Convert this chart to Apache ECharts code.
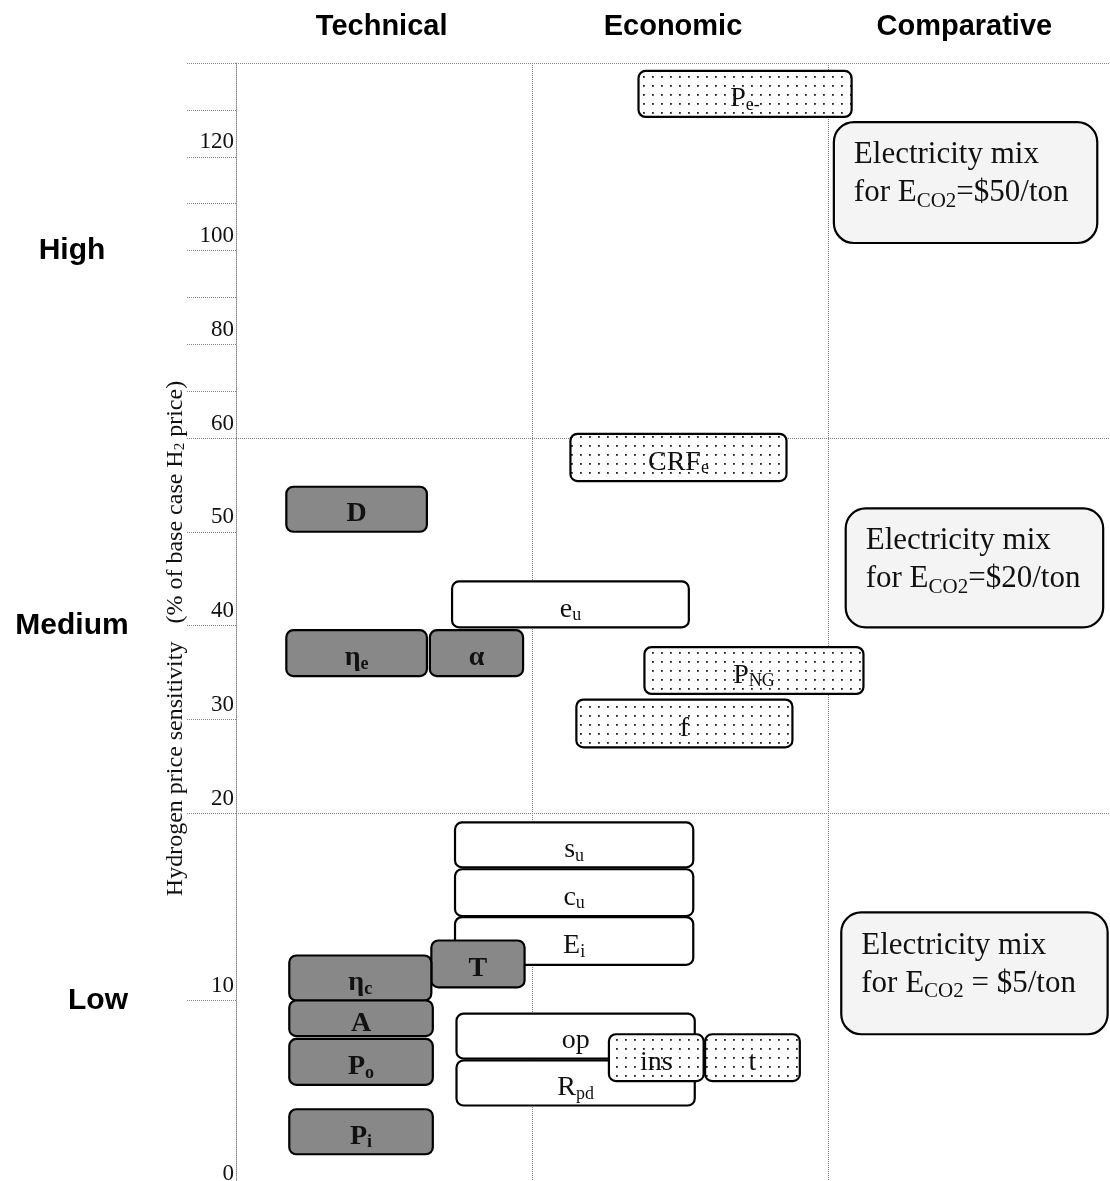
<!DOCTYPE html>
<html>
<head>
<meta charset="utf-8">
<script src="https://cdn.jsdelivr.net/npm/echarts@6/dist/echarts.min.js"></script>
<style>
  html, body { margin: 0; padding: 0; background: #fff; overflow: hidden; }
  #chart { width: 1110px; height: 1188px; }
</style>
</head>
<body>
<div id="chart"></div>
<script>
// Sensitivity bands (% of base-case H2 price); every band gets the same height
const bandBreaks = [0, 20, 60, 140];
const bandNames = ['Low', 'Medium', 'High'];
const columnNames = ['Technical', 'Economic', 'Comparative'];
const tickValues = [0, 10, 20, 30, 40, 50, 60, 70, 80, 90, 100, 110, 120, 130, 140];
const tickLabelValues = [0, 10, 20, 30, 40, 50, 60, 80, 100, 120];

// Parameter boxes: rich-text label, group, horizontal extent (column units), sensitivity range (%)
const boxLabels = [
  'P{s|e-}', 'CRF{s|e}', 'D', 'e{s|u}', 'η{s|e}', 'α', 'P{s|NG}', 'f',
  's{s|u}', 'c{s|u}', 'E{s|i}', 'T', 'η{s|c}', 'A', 'P{s|o}', 'P{s|i}',
  'op', 'R{s|pd}', 'ins', 't',
  'Electricity mix\nfor E{s|CO2}=$50/ton',
  'Electricity mix\nfor E{s|CO2}=$20/ton',
  'Electricity mix\nfor E{s|CO2} = $5/ton'
];
const boxKinds = [
  'dotted', 'dotted', 'technical', 'plain', 'technical', 'technical', 'dotted', 'dotted',
  'plain', 'plain', 'plain', 'technical', 'technical', 'technical', 'technical', 'technical',
  'plain', 'plain', 'dotted', 'dotted',
  'comparative', 'comparative', 'comparative'
];
const boxXStart = [1.36, 1.13, 0.17, 0.73, 0.17, 0.655, 1.38, 1.15,
  0.74, 0.74, 0.74, 0.66, 0.18, 0.18, 0.18, 0.18,
  0.745, 0.745, 1.26, 1.585,
  2.02, 2.06, 2.045];
const boxXEnd = [2.08, 1.86, 0.645, 1.53, 0.645, 0.97, 2.12, 1.88,
  1.545, 1.545, 1.545, 0.975, 0.66, 0.665, 0.665, 0.665,
  1.55, 1.55, 1.58, 1.905,
  2.91, 2.93, 2.945];
const boxLow = [128.5, 55.4, 50.0, 39.8, 34.6, 34.6, 32.7, 27.0,
  17.1, 14.5, 11.9, 10.7, 10.0, 8.1, 5.5, 1.8,
  6.9, 4.4, 5.7, 5.7,
  101.6, 39.8, 8.2];
const boxHigh = [138.3, 60.9, 54.8, 44.7, 39.5, 39.5, 37.7, 32.1,
  19.5, 17.0, 14.45, 13.2, 12.4, 10.0, 7.95, 4.2,
  9.3, 6.8, 8.2, 8.2,
  127.4, 52.5, 14.7];

// Piecewise-linear mapping between sensitivity (%) and the band-based axis coordinate
function toAxis(v) {
  for (let i = 0; i < bandBreaks.length - 1; i++) {
    if (v <= bandBreaks[i + 1] || i === bandBreaks.length - 2) {
      return i + (v - bandBreaks[i]) / (bandBreaks[i + 1] - bandBreaks[i]);
    }
  }
}
function fromAxis(u) {
  const i = Math.max(0, Math.min(Math.floor(u + 1e-9), bandBreaks.length - 2));
  return bandBreaks[i] + (u - i) * (bandBreaks[i + 1] - bandBreaks[i]);
}

const SERIF = '"Liberation Serif", "Times New Roman", Times, serif';
const SANS = '"Liberation Sans", Arial, Helvetica, sans-serif';
const GRID_LINE = { color: '#858585', type: 'dotted', width: 1 };

// Dot-screen fill for the economic boxes
const dotTile = document.createElement('canvas');
dotTile.width = 9; dotTile.height = 9;
(function () {
  const g = dotTile.getContext('2d');
  g.fillStyle = '#ffffff'; g.fillRect(0, 0, 9, 9);
  g.fillStyle = '#222222'; g.fillRect(4, 4, 1.8, 1.8);
})();

const kindStyle = {
  technical: { fill: '#888888', r: 7, fontSize: 28, fontWeight: 'bold', subSize: 18 },
  dotted: { fill: { image: dotTile, repeat: 'repeat' }, r: 7, fontSize: 28, fontWeight: 'normal', subSize: 18 },
  plain: { fill: '#ffffff', r: 7, fontSize: 28, fontWeight: 'normal', subSize: 18 },
  comparative: { fill: '#f4f4f4', r: 20, fontSize: 31, fontWeight: 'normal', subSize: 21 }
};

function renderBox(params, api) {
  const i = params.dataIndex;
  const kind = boxKinds[i];
  const ks = kindStyle[kind];
  const tl = api.coord([api.value(0), api.value(3)]);
  const br = api.coord([api.value(1), api.value(2)]);
  const x = tl[0], y = tl[1], w = br[0] - tl[0], h = br[1] - tl[1];
  const rect = {
    type: 'rect',
    shape: { x: x, y: y, width: w, height: h, r: ks.r },
    style: { fill: ks.fill, stroke: '#000', lineWidth: 2.2 }
  };
  let text;
  if (kind === 'comparative') {
    text = {
      type: 'text',
      style: {
        x: x + 20, y: y + 14,
        text: boxLabels[i],
        align: 'left', verticalAlign: 'top',
        fontFamily: SERIF, fontSize: ks.fontSize, lineHeight: 38, fill: '#111',
        rich: { s: { fontFamily: SERIF, fontSize: ks.subSize, lineHeight: 16, verticalAlign: 'bottom', fill: '#111' } }
      }
    };
  } else {
    text = {
      type: 'text',
      style: {
        x: x + w / 2, y: y + h / 2 + 5,
        text: boxLabels[i],
        align: 'center', verticalAlign: 'middle',
        fontFamily: SERIF, fontSize: ks.fontSize, fontWeight: ks.fontWeight, lineHeight: 30, fill: '#111',
        rich: { s: { fontFamily: SERIF, fontSize: ks.subSize, fontWeight: ks.fontWeight, lineHeight: 12, verticalAlign: 'bottom', fill: '#111' } }
      }
    };
  }
  return { type: 'group', children: [rect, text] };
}

const boxData = boxLabels.map((_, i) => [boxXStart[i], boxXEnd[i], toAxis(boxLow[i]), toAxis(boxHigh[i])]);

const chart = echarts.init(document.getElementById('chart'), null, { renderer: 'canvas' });
chart.setOption({
  animation: false,
  backgroundColor: '#ffffff',
  grid: { left: 236, right: 0, top: 63, bottom: 0, containLabel: false },
  xAxis: [
    {
      type: 'value', min: 0, max: 2.953, interval: 1,
      axisLine: { show: false }, axisTick: { show: false }, axisLabel: { show: false },
      splitLine: { show: true, lineStyle: GRID_LINE }
    },
    {
      type: 'category', position: 'top', data: columnNames,
      axisLine: { show: false }, axisTick: { show: false }, splitLine: { show: false },
      axisLabel: {
        interval: 0, margin: 22, color: '#000',
        fontFamily: SANS, fontWeight: 'bold', fontSize: 29
      }
    }
  ],
  yAxis: [
    {
      type: 'value', min: 0, max: bandBreaks.length - 1,
      name: 'Hydrogen price sensitivity   (% of base case H{s|2} price)',
      nameLocation: 'middle', nameGap: 48,
      nameTextStyle: {
        fontFamily: SERIF, fontSize: 24, color: '#111', padding: [0, 26, 0, 0],
        rich: { s: { fontFamily: SERIF, fontSize: 15, lineHeight: 10, verticalAlign: 'bottom', color: '#111' } }
      },
      axisLine: { show: true, lineStyle: GRID_LINE },
      axisTick: {
        show: true, inside: false, length: 50, lineStyle: GRID_LINE,
        customValues: tickValues.map(toAxis)
      },
      axisLabel: {
        customValues: tickLabelValues.map(toAxis),
        formatter: (u) => String(Math.round(fromAxis(u))),
        margin: 2, verticalAlign: 'bottom', padding: [0, 0, 3, 0],
        fontFamily: SERIF, fontSize: 23, color: '#111'
      },
      splitLine: { show: false }
    },
    {
      type: 'category', position: 'left', offset: 164, data: bandNames,
      axisLine: { show: false }, axisTick: { show: false }, splitLine: { show: false },
      axisLabel: {
        interval: 0, margin: 0, align: 'center', color: '#000',
        fontFamily: SANS, fontWeight: 'bold', fontSize: 30,
        formatter: (name) => name === 'Low' ? '{low|' + name + '}' : name,
        rich: { low: { fontFamily: SANS, fontWeight: 'bold', fontSize: 30, color: '#000', padding: [0, 0, 0, 52] } }
      }
    },
    {
      // band boundaries (20, 60 and 140 %)
      type: 'value', position: 'right', min: 0, max: bandBreaks.length - 1, interval: 1,
      axisLine: { show: false }, axisTick: { show: false }, axisLabel: { show: false },
      splitLine: { show: true, lineStyle: GRID_LINE }
    }
  ],
  series: [
    {
      type: 'custom',
      xAxisIndex: 0, yAxisIndex: 0,
      renderItem: renderBox,
      encode: { x: [0, 1], y: [2, 3] },
      data: boxData,
      clip: false,
      silent: true
    }
  ]
});
</script>
</body>
</html>
